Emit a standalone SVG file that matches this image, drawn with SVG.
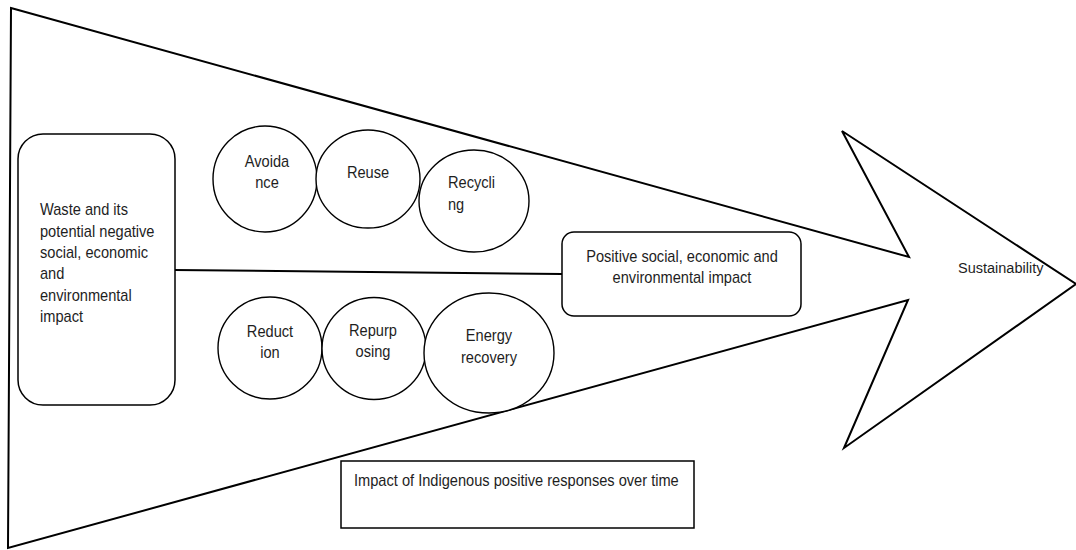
<svg xmlns="http://www.w3.org/2000/svg" width="1076" height="550" viewBox="0 0 1076 550">
  <style>
    .outline { fill: #ffffff; stroke: #000000; stroke-width: 2; stroke-linejoin: miter; }
    .box { fill: #ffffff; stroke: #000000; stroke-width: 1.5; }
    .ring { fill: #ffffff; stroke: #000000; stroke-width: 1.4; }
    .link { fill: none; stroke: #000000; stroke-width: 2; }
    text { font-family: "Liberation Sans", Arial, sans-serif; font-size: 16.8px; fill: #1e1e1e; }
    .mid { text-anchor: middle; }
    .small { font-size: 15.5px; }
  </style>

  <!-- Large arrow: widening wedge with notched head -->
  <g id="arrow">
    <polygon class="outline" points="11,8 909,257 842,131 1076,284 844,448 908,300 8,548"/>
  </g>

  <!-- Connector between the two boxes -->
  <g id="connectors">
    <line class="link" x1="174" y1="270" x2="562" y2="274"/>
  </g>

  <!-- Narrow text: each label is placed with a horizontal squeeze of 0.87 -->
  <g id="waste">
    <rect class="box" x="18" y="134" width="157" height="271" rx="25" ry="25"/>
    <text transform="matrix(0.87 0 0 1 40 215)">Waste and its</text>
    <text transform="matrix(0.87 0 0 1 40 236.5)">potential negative</text>
    <text transform="matrix(0.87 0 0 1 40 258)">social, economic</text>
    <text transform="matrix(0.87 0 0 1 40 279)">and</text>
    <text transform="matrix(0.87 0 0 1 40 300.5)">environmental</text>
    <text transform="matrix(0.87 0 0 1 40 322)">impact</text>
  </g>

  <g id="avoidance">
    <ellipse class="ring" cx="265" cy="179" rx="52" ry="53"/>
    <text class="mid" transform="matrix(0.87 0 0 1 267 167)">Avoida</text>
    <text class="mid" transform="matrix(0.87 0 0 1 267 188)">nce</text>
  </g>

  <g id="reuse">
    <ellipse class="ring" cx="368" cy="179" rx="52" ry="49"/>
    <text class="mid" transform="matrix(0.87 0 0 1 368 178)">Reuse</text>
  </g>

  <g id="recycling">
    <ellipse class="ring" cx="474" cy="201" rx="55" ry="51"/>
    <text transform="matrix(0.87 0 0 1 448 188)">Recycli</text>
    <text transform="matrix(0.87 0 0 1 448 210)">ng</text>
  </g>

  <g id="reduction">
    <ellipse class="ring" cx="270" cy="348" rx="52" ry="51"/>
    <text class="mid" transform="matrix(0.87 0 0 1 270 337)">Reduct</text>
    <text class="mid" transform="matrix(0.87 0 0 1 270 358)">ion</text>
  </g>

  <g id="repurposing">
    <ellipse class="ring" cx="374" cy="348.5" rx="52" ry="51"/>
    <text class="mid" transform="matrix(0.87 0 0 1 373 336)">Repurp</text>
    <text class="mid" transform="matrix(0.87 0 0 1 373 357)">osing</text>
  </g>

  <g id="energy-recovery">
    <ellipse class="ring" cx="489" cy="353" rx="65" ry="60"/>
    <text class="mid" transform="matrix(0.87 0 0 1 489 341)">Energy</text>
    <text class="mid" transform="matrix(0.87 0 0 1 489 363)">recovery</text>
  </g>

  <g id="positive-impact">
    <rect class="box" x="562" y="232" width="239" height="84" rx="12" ry="12"/>
    <text class="mid" transform="matrix(0.87 0 0 1 682 262)">Positive social, economic and</text>
    <text class="mid" transform="matrix(0.87 0 0 1 682 283)">environmental impact</text>
  </g>

  <g id="sustainability">
    <text class="small" transform="matrix(0.936 0 0 1 958 273)">Sustainability</text>
  </g>

  <g id="indigenous-responses">
    <rect class="box" x="341" y="461" width="353" height="67"/>
    <text transform="matrix(0.87 0 0 1 354 486)">Impact of Indigenous positive responses over time</text>
  </g>
</svg>
